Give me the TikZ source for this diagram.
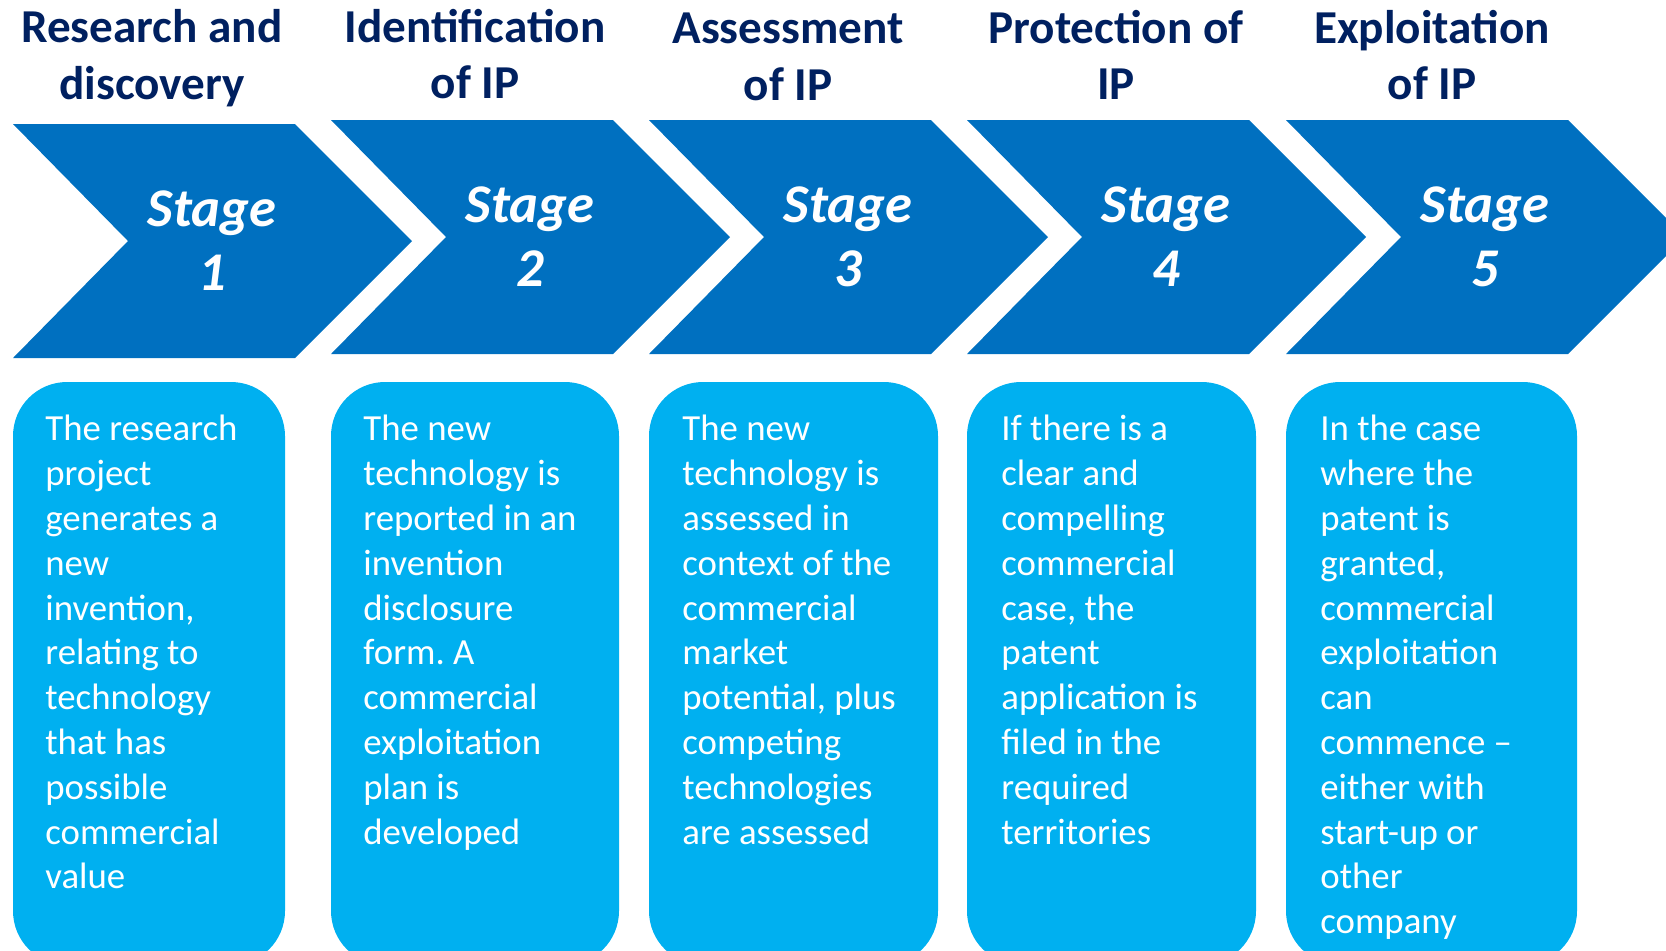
\documentclass[tikz,border=0pt]{standalone}
\usepackage{fontspec}
\setmainfont{Carlito}
\usepackage{tikz}
\usepackage{xcolor}
\definecolor{chevblue}{HTML}{0070C0}
\definecolor{boxblue}{HTML}{00B0F0}
\definecolor{headnavy}{HTML}{002060}
\tikzstyle{chev}=[fill=chevblue]
\tikzstyle{infobox}=[fill=boxblue, rounded corners=27pt]
\tikzstyle{head}=[text=headnavy, font=\bfseries\fontsize{23.6}{28.3}\selectfont, align=center, inner sep=0]
\tikzstyle{stagetxt}=[text=white, font=\bfseries\itshape\fontsize{27.3}{32}\selectfont, align=center, inner sep=0]
\tikzstyle{boxtxt}=[text=white, font=\fontsize{18.4}{22.4}\selectfont, align=left, anchor=north west, inner sep=0]
\frenchspacing

\begin{document}
\begin{tikzpicture}[x=0.5pt,y=-0.5pt]
\useasboundingbox (0,0) rectangle (1666,950);
\clip (0,0) rectangle (1666,950);
% chevrons
\fill[chev] (13,124) -- ++(282,0) -- ++(117,117) -- ++(-117,117) -- ++(-282,0) -- ++(115,-117) -- cycle;
\fill[chev] (331,120) -- ++(282,0) -- ++(117,117) -- ++(-117,117) -- ++(-282,0) -- ++(115,-117) -- cycle;
\fill[chev] (649,120) -- ++(282,0) -- ++(117,117) -- ++(-117,117) -- ++(-282,0) -- ++(115,-117) -- cycle;
\fill[chev] (967,120) -- ++(282,0) -- ++(117,117) -- ++(-117,117) -- ++(-282,0) -- ++(115,-117) -- cycle;
\fill[chev] (1286,120) -- ++(282,0) -- ++(117,117) -- ++(-117,117) -- ++(-282,0) -- ++(115,-117) -- cycle;
\node[stagetxt] (s1) at (212,241) {Stage\\1};
\node[stagetxt] (s2) at (530,237) {Stage\\2};
\node[stagetxt] (s3) at (848,237) {Stage\\3};
\node[stagetxt] (s4) at (1166,237) {Stage\\4};
\node[stagetxt] (s5) at (1485,237) {Stage\\5};
% headings
\node[head] (h1) at (152,58) {Research and\\discovery};
\node[head] (h2) at (475,54) {Identification\\of IP};
\node[head] (h3) at (788,57) {Assessment\\of IP};
\node[head] (h4) at (1116,55) {Protection of\\IP};
\node[head] (h5) at (1432,55) {Exploitation\\of IP};
% boxes
\fill[infobox] (13,382) rectangle (285,965);
\fill[infobox] (331,382) rectangle (619,965);
\fill[infobox] (649,382) rectangle (938,965);
\fill[infobox] (967,382) rectangle (1256,965);
\fill[infobox] (1286,382) rectangle (1577,965);
\node[boxtxt] (t1) at (45,415) {The research\\project\\generates a\\new\\invention,\\relating to\\technology\\that has\\possible\\commercial\\value};
\node[boxtxt] (t2) at (363,415) {The new\\technology is\\reported in an\\invention\\disclosure\\form. A\\commercial\\exploitation\\plan is\\developed};
\node[boxtxt] (t3) at (682,415) {The new\\technology is\\assessed in\\context of the\\commercial\\market\\potential, plus\\competing\\technologies\\are assessed};
\node[boxtxt] (t4) at (1001,415) {If there is a\\clear and\\compelling\\commercial\\case, the\\patent\\application is\\filed in the\\required\\territories};
\node[boxtxt] (t5) at (1320,415) {In the case\\where the\\patent is\\granted,\\commercial\\exploitation\\can\\commence --\\either with\\start-up or\\other\\company};
\end{tikzpicture}
\end{document}
